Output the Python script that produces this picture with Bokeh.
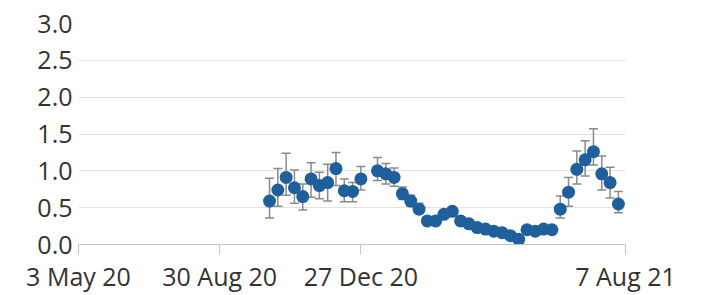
from datetime import datetime
import pandas as pd
from bokeh.plotting import figure
from bokeh.models import (ColumnDataSource, Range1d, FixedTicker, Whisker, TeeHead,
                          DatetimeTickFormatter, PrintfTickFormatter)
from bokeh.embed import file_html
from bokeh.resources import INLINE

# ---- data ----
dates_1 = pd.date_range("2020-10-11", "2020-12-27", freq="7D")
values_1 = [0.59, 0.74, 0.91, 0.77, 0.65, 0.89, 0.80, 0.84, 1.03, 0.73, 0.72, 0.89]
lower_1 = [0.36, 0.52, 0.67, 0.56, 0.47, 0.64, 0.62, 0.59, 0.80, 0.58, 0.58, 0.74]
upper_1 = [0.90, 1.03, 1.24, 1.01, 0.82, 1.11, 0.98, 1.09, 1.25, 0.89, 0.84, 1.06]

dates_2 = pd.date_range("2021-01-10", "2021-08-01", freq="7D")
values_2 = [1.00, 0.96, 0.91, 0.69, 0.59, 0.48, 0.32, 0.32, 0.41, 0.45, 0.32, 0.28,
            0.23, 0.21, 0.18, 0.16, 0.12, 0.07, 0.20, 0.18, 0.21, 0.20, 0.48, 0.71,
            1.02, 1.15, 1.26, 0.96, 0.84, 0.55]
lower_2 = [0.87, 0.82, 0.79, 0.61, 0.52, 0.42, 0.28, 0.28, 0.36, 0.40, 0.28, 0.24,
           0.20, 0.18, 0.16, 0.14, 0.10, 0.05, 0.17, 0.15, 0.18, 0.17, 0.36, 0.52,
           0.82, 0.93, 1.08, 0.74, 0.63, 0.43]
upper_2 = [1.18, 1.10, 1.04, 0.78, 0.67, 0.56, 0.37, 0.37, 0.46, 0.50, 0.37, 0.32,
           0.27, 0.24, 0.21, 0.19, 0.14, 0.09, 0.23, 0.21, 0.24, 0.23, 0.66, 0.91,
           1.27, 1.41, 1.57, 1.20, 1.05, 0.72]

x_tick_dates = ["2020-05-03", "2020-08-30", "2020-12-27", "2021-08-07"]
y_ticks = [0.0, 0.5, 1.0, 1.5, 2.0, 2.5, 3.0]

x_start, x_end = datetime(2020, 5, 3), datetime(2021, 8, 7)
y_start, y_end = 0.0, 3.0

# ---- source ----
src = ColumnDataSource(dict(
    x=list(dates_1) + list(dates_2),
    y=values_1 + values_2,
    lower=lower_1 + lower_2,
    upper=upper_1 + upper_2,
))

FONT = "Open Sans"
TXT = "#333333"

p = figure(frame_width=547, frame_height=221, x_axis_type="datetime",
           x_range=Range1d(x_start, x_end), y_range=Range1d(y_start, y_end),
           output_backend="svg", toolbar_location=None,
           min_border_left=78, min_border_right=64, min_border_top=23, min_border_bottom=30)
p.outline_line_color = None
p.background_fill_color = "white"
p.border_fill_color = "white"

# grid
p.xgrid.visible = False
p.ygrid.ticker = FixedTicker(ticks=y_ticks)
p.ygrid.grid_line_color = "#e3e3e3"
p.ygrid.grid_line_width = 1

# y axis
p.yaxis.ticker = FixedTicker(ticks=y_ticks)
p.yaxis.formatter = PrintfTickFormatter(format="%.1f")
p.yaxis.axis_line_color = None
p.yaxis.major_tick_line_color = None
p.yaxis.minor_tick_line_color = None
p.yaxis.major_tick_out = 0
p.yaxis.major_tick_in = 0
p.yaxis.major_label_standoff = 6
p.yaxis.major_label_text_font = FONT
p.yaxis.major_label_text_font_size = "25px"
p.yaxis.major_label_text_color = TXT

# x axis
tick_ms = [pd.Timestamp(d).value / 1e6 for d in x_tick_dates]
p.xaxis.ticker = FixedTicker(ticks=tick_ms)
fmt = "%-d %b %y"
p.xaxis.formatter = DatetimeTickFormatter(days=fmt, months=fmt, years=fmt, hours=fmt,
                                          minutes=fmt, seconds=fmt, milliseconds=fmt,
                                          microseconds=fmt, hourmin=fmt, minsec=fmt)
p.xaxis.axis_line_color = "#c4c4c4"
p.xaxis.axis_line_width = 1
p.xaxis.major_tick_line_color = "#c4c4c4"
p.xaxis.minor_tick_line_color = None
p.xaxis.major_tick_out = 10
p.xaxis.major_tick_in = 0
p.xaxis.major_label_standoff = 4
p.xaxis.major_label_text_font = FONT
p.xaxis.major_label_text_font_size = "25px"
p.xaxis.major_label_text_color = TXT

# error bars
w = Whisker(source=src, base="x", lower="lower", upper="upper",
            line_color="#8a8a8a", line_width=1.5, level="underlay",
            upper_head=TeeHead(size=9, line_color="#8a8a8a", line_width=1.5),
            lower_head=TeeHead(size=9, line_color="#8a8a8a", line_width=1.5))
p.add_layout(w)

# points
p.scatter("x", "y", source=src, size=13, fill_color="#1f5f9c", line_color=None)

open("out.html", "w").write(file_html(p, INLINE))
